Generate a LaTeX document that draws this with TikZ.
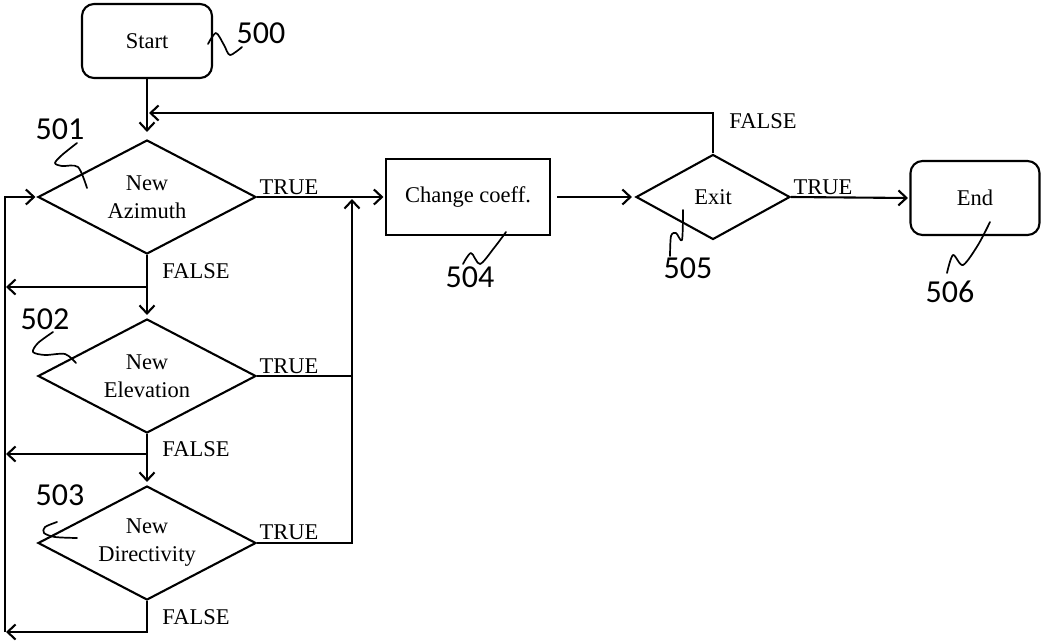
\documentclass[tikz,border=0pt]{standalone}
\usepackage{fontspec}
\setmainfont{Liberation Serif}
\newfontfamily\labfont{Carlito}
\usetikzlibrary{arrows.meta,shapes.geometric}
\begin{document}
\begin{tikzpicture}[x=1pt,y=-1pt, line width=2.1pt,
 arr/.style={-{Straight Barb[length=8pt,width=15pt]}, shorten >=1.5pt},
 txt/.style={font=\fontsize{22.5}{28}\selectfont},
 term/.style={draw, rounded corners=12pt, minimum width=130pt, minimum height=74pt, inner sep=0pt, txt},
 proc/.style={draw, minimum width=164pt, minimum height=76pt, inner sep=0pt, txt},
 dec/.style={draw, diamond, shape aspect=1.9, minimum width=218pt, minimum height=114pt, inner sep=0pt, align=center, txt},
 lbl/.style={font=\labfont\fontsize{32}{38}\selectfont, inner sep=0pt},
 sq/.style={line width=1.7pt, line cap=round, line join=round},
 cond/.style={txt, inner sep=0pt}]
\useasboundingbox (0,0) rectangle (1041,643);

% nodes
\node[term] (start) at (147,41) {Start};
\node[dec] (d1) at (147,197) {New\\Azimuth};
\node[dec] (d2) at (147,376) {New\\Elevation};
\node[dec] (d3) at (147,543) {New\\Directivity};
\node[proc] (cc) at (468,197) {Change coeff.};
\node[dec, minimum width=154pt, minimum height=85pt] (ex) at (713,197) {Exit};
\node[term, minimum width=129pt] (en) at (975,198) {End};

% condition labels
\node[cond] (t1) at (289,187) {TRUE};
\node[cond] (t2) at (289,366) {TRUE};
\node[cond] (t3) at (289,532) {TRUE};
\node[cond] (t4) at (823,187) {TRUE};
\node[cond] (f1) at (196,271) {FALSE};
\node[cond] (f2) at (196,449) {FALSE};
\node[cond] (f3) at (196,617) {FALSE};
\node[cond] (f4) at (763,121) {FALSE};

% reference numerals
\node[lbl] (n500) at (261,33) {500};
\node[lbl] (n501) at (60,129) {501};
\node[lbl] (n502) at (45,319) {502};
\node[lbl] (n503) at (60,495) {503};
\node[lbl] (n504) at (470,277) {504};
\node[lbl] (n505) at (688,268) {505};
\node[lbl] (n506) at (950,292) {506};

% squiggles
\draw[sq] plot[smooth] coordinates {(208,44) (216,33) (224,45) (230,55) (242,47)};
\draw[sq] plot[smooth] coordinates {(77,143) (62,155) (55,163) (62,166) (78,167) (87,188)};
\draw[sq] plot[smooth] coordinates {(53,332) (38,343) (33,352) (45,355) (65,354) (76,363)};
\draw[sq] plot[smooth] coordinates {(57,522) (45,527) (44,533) (55,537) (77,538)};
\draw[sq] plot[smooth] coordinates {(463,264) (471,253) (480,264) (494,248) (506,232)};
\draw[sq] plot[smooth] coordinates {(670,256) (671,236) (676,233) (682,240) (683,210)};
\draw[sq] plot[smooth] coordinates {(947,273) (953,255) (963,265) (978,245) (990,222)};

% coordinates
\coordinate (jT) at (352,199);
\coordinate (jA) at (149,113);
\coordinate (b1) at (147,287);
\coordinate (b2) at (147,454);
\coordinate (lx) at (6,0);
\coordinate (L) at (5,632);

% connectors
\draw[arr, shorten >=7pt] (start.south) -- (d1.north);
\draw[arr] (d1.east) -- (cc.west);
\draw[arr, shorten >=0pt] (d3.east) -| (jT);
\draw (d2.east) -- (d2.east -| jT);
\draw[arr, shorten <=6pt, shorten >=3pt] (cc.east) -- (ex.west);
\draw[arr] (ex.east) -- (en.west);
\draw[arr, shorten >=0pt] (ex.north) |- (jA);
\draw[arr, shorten >=3pt] (d1.south) -- (d2.north);
\draw[arr, shorten >=3pt] (d2.south) -- (d3.north);
\draw[arr, shorten >=0pt] (b1) -- (b1 -| lx);
\draw[arr, shorten >=0pt] (b2) -- (b2 -| lx);
\draw[arr, shorten >=0pt] (d3.south) |- ([xshift=1pt]L);
\draw[arr] (L) |- (d1.west);
\end{tikzpicture}
\end{document}
